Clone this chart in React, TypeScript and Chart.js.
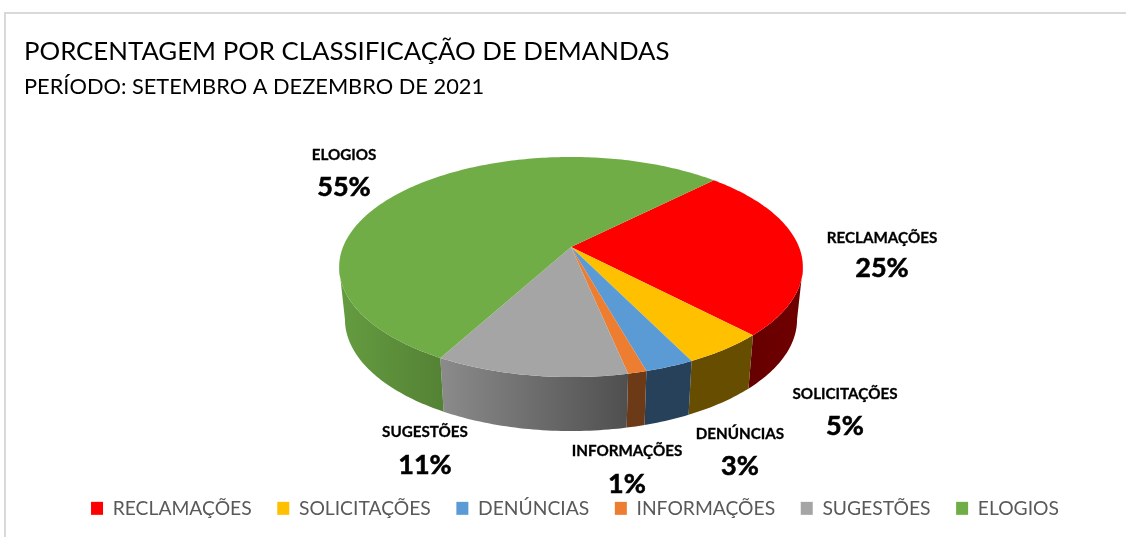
import React, { useEffect, useRef } from "react";
import { Chart, registerables } from "chart.js";

Chart.register(...registerables);

const categories = ["RECLAMAÇÕES", "SOLICITAÇÕES", "DENÚNCIAS", "INFORMAÇÕES", "SUGESTÕES", "ELOGIOS"];
const values = [25.3, 4.9, 2.9, 1.1, 11.3, 54.5];
const colors = ["#FF0000", "#FFC000", "#5B9BD5", "#ED7D31", "#A5A5A5", "#70AD47"];
const sideShadeStart = [0.4, 0.4, 0.42, 0.46, 0.84, 0.9];
const sideShadeEnd = [0.44, 0.4, 0.42, 0.46, 0.48, 0.75];
const labelCenterX = [882, 845, 740, 627, 425, 344];
const labelNameY = [238, 394, 434, 451, 432, 155];
const labelPercentY = [268, 426, 466, 484, 465, 187];

const FONT = "Lato, 'Open Sans', sans-serif";
const CX = 571;
const CY = 247;
const RX = 228;
const RY = 106.4;
const PERSP = -0.1818;
const DEG = Math.PI / 180;

function rim(theta: number, lower: boolean): [number, number] {
  const u = Math.cos(theta);
  const v = Math.sin(theta);
  const w = 1 + PERSP * v;
  const x = CX + (RX * u) / w;
  const y = CY + (RY * v) / w;
  if (!lower) return [x, y];
  return [CX + (x - CX) * 0.975, y + 52 + 2 * v];
}

function shade(hex: string, f: number): string {
  const n = parseInt(hex.slice(1), 16);
  const r = Math.round(((n >> 16) & 255) * f);
  const g = Math.round(((n >> 8) & 255) * f);
  const b = Math.round((n & 255) * f);
  return `rgb(${r},${g},${b})`;
}

const pie3d = {
  id: "pie3d",
  beforeDatasetsDraw(chart: any) {
    const ctx = chart.ctx as CanvasRenderingContext2D;
    const arcs = chart.getDatasetMeta(0).data;
    const edge = Math.asin(-PERSP);
    const visFrom = edge;
    const visTo = Math.PI - edge;
    arcs.forEach((arc: any, i: number) => {
      const s = Math.max(arc.startAngle, visFrom);
      const e = Math.min(arc.endAngle, visTo);
      if (e <= s) return;
      const steps = Math.max(4, Math.ceil((e - s) / (1 * DEG)));
      const pts: [number, number][] = [];
      for (let k = 0; k <= steps; k++) pts.push(rim(s + ((e - s) * k) / steps, false));
      for (let k = steps; k >= 0; k--) pts.push(rim(s + ((e - s) * k) / steps, true));
      const xs = pts.map((p) => p[0]);
      const g = ctx.createLinearGradient(Math.min(...xs), 0, Math.max(...xs), 0);
      g.addColorStop(0, shade(colors[i], sideShadeStart[i]));
      g.addColorStop(1, shade(colors[i], sideShadeEnd[i]));
      ctx.beginPath();
      pts.forEach((p, k) => (k ? ctx.lineTo(p[0], p[1]) : ctx.moveTo(p[0], p[1])));
      ctx.closePath();
      ctx.fillStyle = g;
      ctx.fill();
    });
    arcs.forEach((arc: any, i: number) => {
      const s = arc.startAngle;
      const e = arc.endAngle;
      const steps = Math.max(4, Math.ceil((e - s) / (1 * DEG)));
      ctx.beginPath();
      ctx.moveTo(CX, CY);
      for (let k = 0; k <= steps; k++) {
        const p = rim(s + ((e - s) * k) / steps, false);
        ctx.lineTo(p[0], p[1]);
      }
      ctx.closePath();
      ctx.fillStyle = colors[i];
      ctx.fill();
    });
    return false;
  },
  afterDraw(chart: any) {
    const ctx = chart.ctx as CanvasRenderingContext2D;
    const total = values.reduce((a, b) => a + b, 0);
    ctx.save();
    ctx.textAlign = "center";
    ctx.textBaseline = "middle";
    ctx.fillStyle = "#000000";
    ctx.strokeStyle = "#000000";
    categories.forEach((name, i) => {
      ctx.font = `bold 15.2px ${FONT}`;
      ctx.lineWidth = 0.3;
      ctx.fillText(name, labelCenterX[i], labelNameY[i]);
      ctx.strokeText(name, labelCenterX[i], labelNameY[i]);
      const pct = `${Math.round((values[i] / total) * 100)}%`;
      ctx.font = `bold 27px ${FONT}`;
      ctx.lineWidth = 0.6;
      ctx.fillText(pct, labelCenterX[i], labelPercentY[i]);
      ctx.strokeText(pct, labelCenterX[i], labelPercentY[i]);
    });
    ctx.restore();
  },
};

export default function App() {
  const ref = useRef<HTMLCanvasElement>(null);
  useEffect(() => {
    const chart = new Chart(ref.current!, {
      type: "pie",
      data: {
        labels: categories,
        datasets: [{ data: values, backgroundColor: colors, borderWidth: 0 }],
      },
      options: {
        responsive: false,
        animation: false,
        rotation: 45,
        layout: { padding: { left: 24, top: 36.5, bottom: 9, right: 0 } },
        plugins: {
          title: {
            display: true,
            text: "PORCENTAGEM POR CLASSIFICAÇÃO DE DEMANDAS",
            align: "start",
            color: "#000000",
            font: { family: FONT, size: 25.8, weight: "normal" },
            padding: { top: 0, bottom: 6.5 },
          },
          subtitle: {
            display: true,
            text: "PERÍODO: SETEMBRO A DEZEMBRO DE 2021",
            align: "start",
            color: "#000000",
            font: { family: FONT, size: 21.8, weight: "normal" },
            padding: { top: 0, bottom: 0 },
          },
          legend: {
            position: "bottom",
            labels: {
              color: "#595959",
              font: { family: FONT, size: 19.3 },
              boxWidth: 12,
              boxHeight: 13,
              padding: 25.6,
            },
          },
          tooltip: { enabled: false },
        },
      },
      plugins: [pie3d],
    } as any);
    return () => chart.destroy();
  }, []);
  return (
    <div style={{ position: "absolute", left: 0, top: 0, width: 1126, height: 537, background: "#fff", overflow: "hidden" }}>
      <canvas ref={ref} width={1126} height={537} style={{ display: "block" }} />
      <div
        style={{
          position: "absolute",
          left: 4,
          top: 12,
          right: 0,
          bottom: 0,
          borderLeft: "2px solid #d9d9d9",
          borderTop: "2px solid #d9d9d9",
          pointerEvents: "none",
        }}
      />
    </div>
  );
}
